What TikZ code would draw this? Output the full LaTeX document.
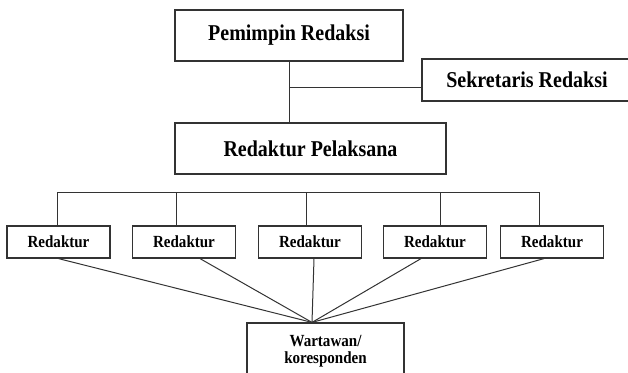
\documentclass[tikz,border=0pt]{standalone}
\usepackage{fontspec}
\setmainfont{Liberation Serif}[FakeStretch=0.885]
\begin{document}
\begin{tikzpicture}[x=1pt,y=-1pt,
  bigbox/.style={draw=black!80, line width=1.2pt, minimum height=51pt, inner sep=0pt, font=\fontsize{22.6}{26}\selectfont\bfseries},
  smallbox/.style={draw=black!80, line width=1.2pt, minimum width=103pt, minimum height=32pt, inner sep=0pt, font=\fontsize{17}{16.5}\selectfont\bfseries},
  link/.style={draw=black!80, line width=1pt}]
  \useasboundingbox (0,0) rectangle (628,372);

  % Top level
  \node[bigbox, minimum width=228pt] (pemimpin) at (289,35.5) {Pemimpin Redaksi};
  \node[bigbox, minimum width=210pt, minimum height=42pt] (sekretaris) at (527,80) {Sekretaris Redaksi};
  \node[bigbox, minimum width=271pt] (pelaksana) at (310.5,148.5) {Redaktur Pelaksana};
  \draw[link] (pemimpin.south) -- (pemimpin.south |- pelaksana.north);
  \coordinate (cabang) at (289,87);
  \draw[link] (cabang) -- (cabang -| sekretaris.west);

  % Redaktur row
  \foreach \x/\n in {58.5/1,184/2,310/3,435/4,552/5}
    \node[smallbox] (red\n) at (\x,242) {Redaktur};
  \draw[link] (57,192) -- (539,192);
  \foreach \x/\n in {57/1,176/2,306/3,440/4,539/5} {
    \coordinate (bus\n) at (\x,192);
    \draw[link] (bus\n) -- (bus\n |- red\n.north);
  }

  % Wartawan
  \node[smallbox, minimum width=157pt, minimum height=56pt, align=center] (wartawan) at (325.5,351) {Wartawan/\\koresponden};
  \coordinate (temu) at ([xshift=-13.5pt]wartawan.north);
  \foreach \d/\n in {0/1,16/2,4/3,-14/4,-8/5}
    \draw[link] ([xshift=\d pt]red\n.south) -- (temu);
\end{tikzpicture}
\end{document}
